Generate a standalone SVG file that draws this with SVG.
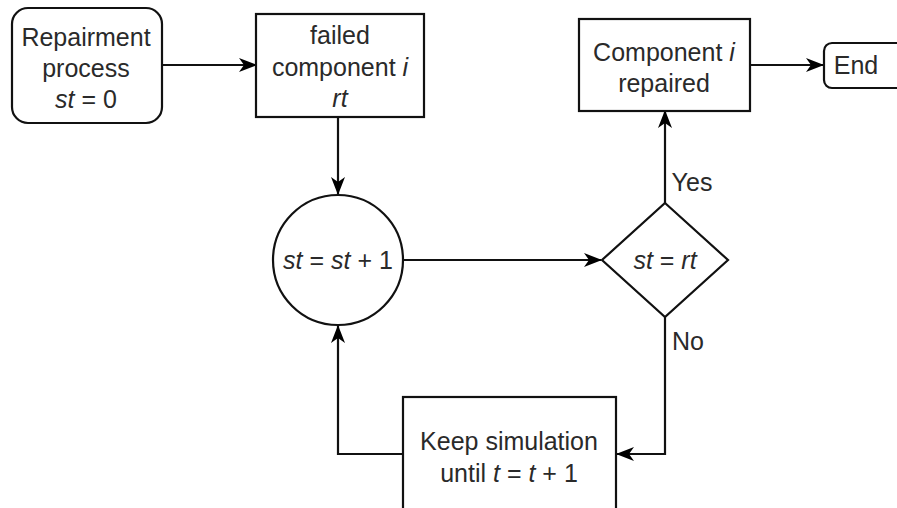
<svg xmlns="http://www.w3.org/2000/svg" width="897" height="508" viewBox="0 0 897 508">
  <defs>
    <marker id="arrow" viewBox="0 0 18 14" refX="17" refY="7" markerWidth="18" markerHeight="14" markerUnits="userSpaceOnUse" orient="auto">
      <path d="M0,0 L18,7 L0,14 L5,7 Z" fill="#000"/>
    </marker>
    <style>
      .shape { fill: #fff; stroke: #111; stroke-width: 2.2; }
      .edge { fill: none; stroke: #111; stroke-width: 2.2; }
      .lbl { font-family: "Liberation Sans", Arial, sans-serif; font-size: 25px; fill: #2a2a2a; text-anchor: middle; }
      .i { font-style: italic; }
    </style>
  </defs>
  <rect width="897" height="508" fill="#fff"/>

  <g id="connectors">
    <line class="edge" x1="162" y1="65" x2="256" y2="65" marker-end="url(#arrow)"/>
    <line class="edge" x1="338" y1="117" x2="338" y2="194" marker-end="url(#arrow)"/>
    <line class="edge" x1="403" y1="260" x2="601" y2="260" marker-end="url(#arrow)"/>
    <line class="edge" x1="665" y1="203" x2="665" y2="111" marker-end="url(#arrow)"/>
    <line class="edge" x1="750" y1="65" x2="823" y2="65" marker-end="url(#arrow)"/>
    <polyline class="edge" points="665,317 665,454 617,454" marker-end="url(#arrow)"/>
    <polyline class="edge" points="403,454 338,454 338,326" marker-end="url(#arrow)"/>
    <text class="lbl" x="692" y="191">Yes</text>
    <text class="lbl" x="688" y="350">No</text>
  </g>

  <g id="start">
    <rect class="shape" x="12" y="8" width="150" height="115" rx="16"/>
    <text class="lbl" x="86" y="46">Repairment</text>
    <text class="lbl" x="86" y="77">process</text>
    <text class="lbl" x="86" y="108"><tspan class="i">st</tspan> = 0</text>
  </g>

  <g id="failed">
    <rect class="shape" x="256" y="14" width="168" height="103"/>
    <text class="lbl" x="340" y="44">failed</text>
    <text class="lbl" x="340" y="76">component <tspan class="i">i</tspan></text>
    <text class="lbl" x="340" y="107" font-style="italic">rt</text>
  </g>

  <g id="increment">
    <circle class="shape" cx="338" cy="260" r="65"/>
    <text class="lbl" x="338" y="269"><tspan class="i">st</tspan> = <tspan class="i">st</tspan> + 1</text>
  </g>

  <g id="decision">
    <polygon class="shape" points="665,203 728,260 665,317 602,260"/>
    <text class="lbl" x="665" y="269"><tspan class="i">st</tspan> = <tspan class="i">rt</tspan></text>
  </g>

  <g id="repaired">
    <rect class="shape" x="579" y="19" width="171" height="92"/>
    <text class="lbl" x="664" y="61">Component <tspan class="i">i</tspan></text>
    <text class="lbl" x="664" y="92">repaired</text>
  </g>

  <g id="end">
    <rect class="shape" x="824" y="43" width="90" height="45" rx="8"/>
    <text class="lbl" x="856" y="74">End</text>
  </g>

  <g id="simulate">
    <rect class="shape" x="403" y="397" width="213" height="130"/>
    <text class="lbl" x="509" y="450">Keep simulation</text>
    <text class="lbl" x="509" y="482">until <tspan class="i">t</tspan> = <tspan class="i">t</tspan> + 1</text>
  </g>
</svg>
